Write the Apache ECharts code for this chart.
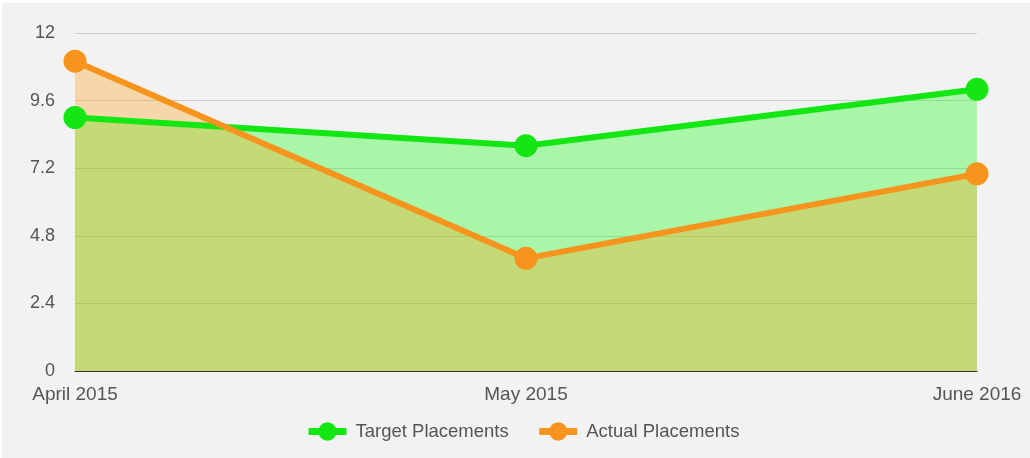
<!DOCTYPE html>
<html>
<head>
<meta charset="utf-8">
<script src="https://cdn.jsdelivr.net/npm/echarts@6/dist/echarts.min.js"></script>
<style>
html,body{margin:0;padding:0;background:#fff;}
#chart{position:absolute;left:2px;top:3px;width:1028px;height:455px;background:#f2f2f2;}
</style>
</head>
<body>
<div id="chart"></div>
<script>
const categories = ['April 2015', 'May 2015', 'June 2016'];
const targetPlacements = [9, 8, 10];
const actualPlacements = [11, 4, 7];
const yTickLabels = ['0', '2.4', '4.8', '7.2', '9.6', '12'];

const greenLine = '#14e614';
const orangeLine = '#f7941d';
const textColor = '#555';
const fontFamily = '"Liberation Sans", Arial, sans-serif';

const chart = echarts.init(document.getElementById('chart'), null, {renderer: 'canvas'});
chart.setOption({
  backgroundColor: '#f2f2f2',
  animation: false,
  grid: {left: 73, right: 53, top: 30, bottom: 87},
  legend: {
    data: ['Target Placements', 'Actual Placements'],
    left: 298,
    top: 414,
    itemWidth: 38,
    itemHeight: 23,
    itemGap: 27,
    lineStyle: {width: 7},
    textStyle: {color: textColor, fontSize: 18.5, fontFamily: fontFamily, padding: [0, 0, 0, 4]}
  },
  xAxis: {
    type: 'category',
    data: categories,
    boundaryGap: false,
    axisTick: {show: false},
    axisLine: {lineStyle: {color: '#333', width: 1}},
    axisLabel: {color: textColor, fontSize: 19, fontFamily: fontFamily, margin: 14}
  },
  yAxis: {
    type: 'value',
    min: 0,
    max: 12,
    interval: 2.4,
    axisLine: {show: false},
    axisTick: {show: false},
    splitLine: {lineStyle: {color: '#cfcfcf', width: 1}},
    axisLabel: {
      color: textColor, fontSize: 18, fontFamily: fontFamily, margin: 20,
      formatter: function (v, i) { return yTickLabels[i] !== undefined ? yTickLabels[i] : String(+v.toFixed(1)); }
    }
  },
  series: [
    {
      name: 'Target Placements', type: 'line', data: targetPlacements, z: 4,
      symbol: 'circle', symbolSize: 23,
      lineStyle: {color: greenLine, width: 6},
      itemStyle: {color: greenLine}
    },
    {
      name: 'Actual Placements', type: 'line', data: actualPlacements, z: 5,
      symbol: 'circle', symbolSize: 23,
      lineStyle: {color: orangeLine, width: 6},
      itemStyle: {color: orangeLine}
    },
    {
      name: 'Target Placements', type: 'line', data: targetPlacements, z: 1, silent: true,
      showSymbol: false, symbol: 'none',
      lineStyle: {width: 0},
      areaStyle: {color: 'rgba(0,255,0,0.3)', opacity: 1}
    },
    {
      name: 'Actual Placements', type: 'line', data: actualPlacements, z: 2, silent: true,
      showSymbol: false, symbol: 'none',
      lineStyle: {width: 0},
      areaStyle: {color: 'rgba(255,153,0,0.3)', opacity: 1}
    }
  ]
});
</script>
</body>
</html>
